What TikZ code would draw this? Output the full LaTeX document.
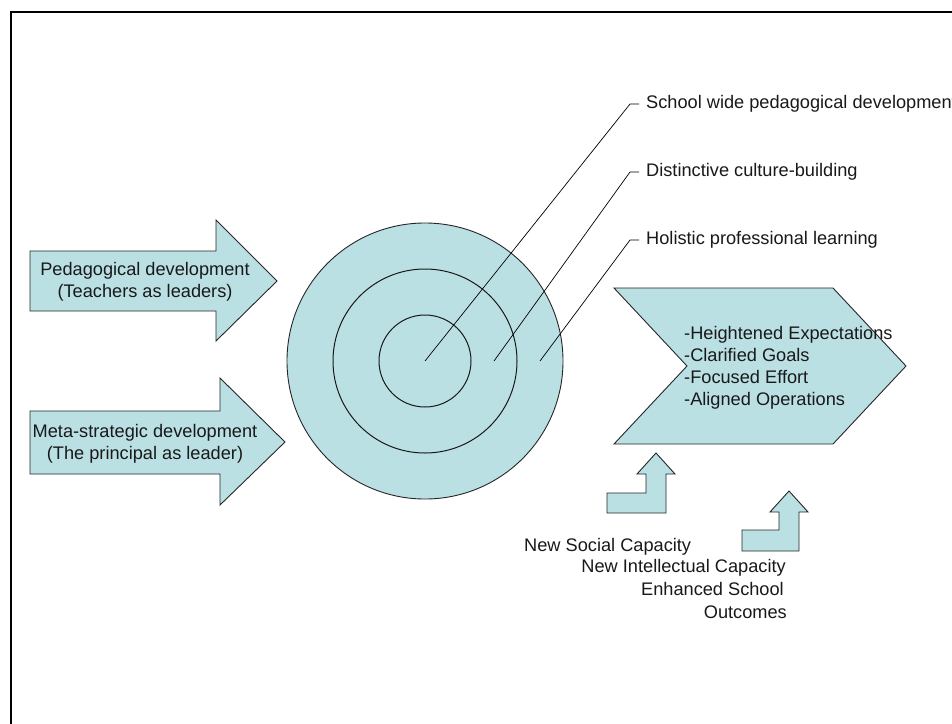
\documentclass[tikz,border=0pt]{standalone}
\usepackage{fontspec}
\setmainfont{Liberation Sans}
\usepackage{xcolor}
\usetikzlibrary{positioning,calc}

\definecolor{paleblue}{RGB}{187,224,228}
\tikzset{
    shapefill/.style={draw=black!85, line width=0.9pt, fill=paleblue, line join=miter},
    ring/.style={draw=black!90, line width=1pt},
    leader/.style={draw=black, line width=0.7pt},
    lbl/.style={font=\fontsize{18.2}{22}\selectfont, inner sep=0pt, text=black!90},
}

\begin{document}
\begin{tikzpicture}[x=1pt, y=-1pt]
    \useasboundingbox (0,0) rectangle (952,723);
    \fill[white] (0,0) rectangle (952,723);
    % frame
    \draw[line width=2.2pt] (11,740) -- (11,12) -- (970,12);

    % input arrows
    \draw[shapefill] (30,251) -- (216,251) -- (216,220) -- (277,281) -- (216,341) -- (216,311) -- (30,311) -- cycle;
    \draw[shapefill] (30,411) -- (220,411) -- (220,378) -- (285,442) -- (220,505) -- (220,474) -- (30,474) -- cycle;
    \node[lbl, align=center] (ped) at (145,282) {Pedagogical development\\ (Teachers as leaders)};
    \node[lbl, align=center] (meta) at (145,444) {Meta-strategic development\\ (The principal as leader)};

    % target
    \coordinate (c) at (425,361);
    \draw[shapefill] (c) circle (138);
    \draw[ring] (c) circle (92);
    \draw[ring] (c) circle (46);

    % labels and leaders
    \node[lbl, anchor=west] (swpd) at (646,104) {School wide pedagogical development};
    \node[lbl, anchor=west] (dcb) at (646,172) {Distinctive culture-building};
    \node[lbl, anchor=west] (hpl) at (646,240) {Holistic professional learning};
    \coordinate (p1) at (425,361);
    \coordinate (p2) at (494,361);
    \coordinate (p3) at (540,361);
    \draw[leader] (p1) -- (630,104) -- ([xshift=-7pt]swpd.west);
    \draw[leader] (p2) -- (630,172) -- ([xshift=-7pt]dcb.west);
    \draw[leader] (p3) -- (630,240) -- ([xshift=-7pt]hpl.west);

    % outcome chevron
    \draw[shapefill] (614,288) -- (833,288) -- (906,366) -- (833,444) -- (614,444) -- (687,366) -- cycle;
    \node[lbl, anchor=west, align=left] (goals) at (684,368) {-Heightened Expectations\\-Clarified Goals\\-Focused Effort\\-Aligned Operations};

    % bent up arrows
    \draw[shapefill] (607,493) -- (646,493) -- (646,474) -- (637,474) -- (656,453) -- (675,474) -- (666,474) -- (666,513) -- (607,513) -- cycle;
    \draw[shapefill] (742,530) -- (779,530) -- (779,512) -- (770,512) -- (789,491) -- (808,512) -- (799,512) -- (799,551) -- (742,551) -- cycle;

    \node[lbl, anchor=west] (nsc) at (524,547) {New Social Capacity};
    \node[lbl, anchor=east] (nic) at (786,568) {New Intellectual Capacity};
    \node[lbl, anchor=east] (esc) at (784,589) {Enhanced School};
    \node[lbl, anchor=east] (outc) at (787,612) {Outcomes};
\end{tikzpicture}
\end{document}
